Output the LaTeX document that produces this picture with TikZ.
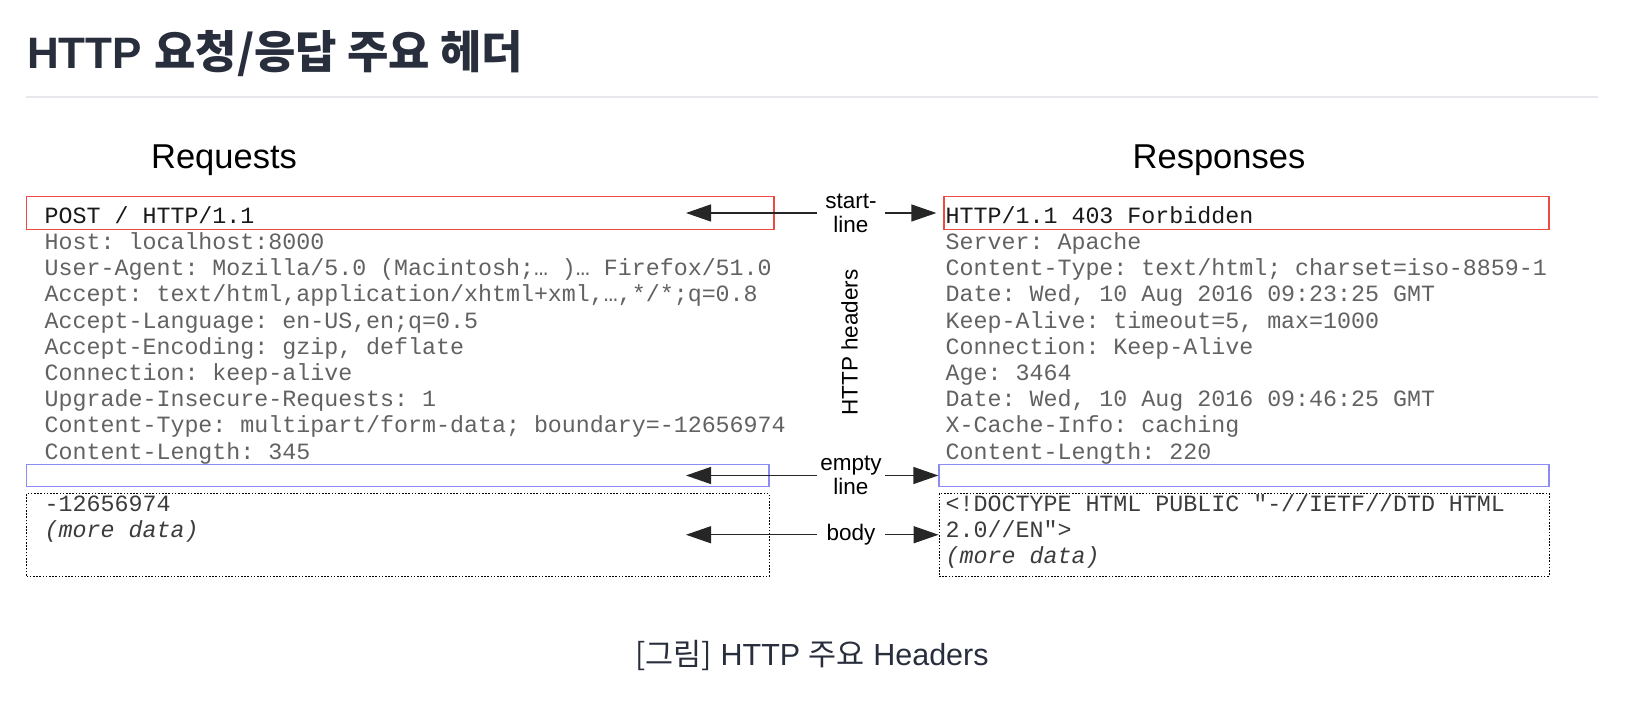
\documentclass[tikz,border=0pt]{standalone}
\usepackage{fontspec}
\setmainfont{Liberation Sans}
\setmonofont{Liberation Mono}
\newfontfamily\krfont{Noto Sans CJK KR}
\usetikzlibrary{arrows.meta}

\definecolor{titlecol}{HTML}{282E3C}
\definecolor{rulecol}{HTML}{E6E8EC}
\definecolor{startred}{HTML}{EE4A44}
\definecolor{emptyblue}{HTML}{8C8CF5}
\definecolor{hdrgray}{HTML}{626262}
\definecolor{bodygray}{HTML}{3C3C3C}

\begin{document}
\begin{tikzpicture}[x=1pt,y=-1pt]
	\tikzset{box/.style={draw, inner sep=0pt}}
	\tikzset{redbox/.style={box, draw=startred, line width=1.3pt}}
	\tikzset{bluebox/.style={box, draw=emptyblue, line width=1.3pt}}
	\tikzset{dotbox/.style={box, draw=black, line width=0.9pt, dash pattern=on 1.6pt off 1.6pt}}
	\tikzset{first/.style={anchor=base west, inner sep=0pt, text=black!90, font=\ttfamily\fontsize{23.3}{26}\selectfont}}
	\tikzset{hdr/.style={first, text=hdrgray}}
	\tikzset{bodytxt/.style={first, text=bodygray}}
	\tikzset{head/.style={anchor=base, inner sep=0pt, font=\fontsize{34.5}{40}\selectfont}}
	\tikzset{tag/.style={inner sep=0pt, minimum width=68pt, align=center, font=\fontsize{22.5}{24}\selectfont}}
	\tikzset{arr/.style={-{Triangle[length=25pt,width=17pt]}, line width=1.3pt, draw=black!85}}

	\useasboundingbox[fill=white] (0,0) rectangle (1632,708);

	% title
	\node[anchor=base west, inner sep=0pt, text=titlecol, font=\fontsize{44}{50}\selectfont] (title) at (27,68.3) {\bfseries HTTP {\krfont\fontsize{45}{50}\selectfont 요청/응답 주요 헤더}};
	\draw[rulecol, line width=2pt] (26,97) -- (1598,97);

	% column heads
	\node[head] (reqhead) at (224,168.5) {Requests};
	\node[head] (resphead) at (1219,168.5) {Responses};

	% boxes
	\node[redbox, minimum width=747.5pt, minimum height=33pt] (reqstart) at (400.25,213) {};
	\node[redbox, minimum width=605pt, minimum height=33pt] (respstart) at (1246.5,213) {};
	\node[bluebox, minimum width=742.5pt, minimum height=21.5pt] (reqempty) at (397.75,475.5) {};
	\node[bluebox, minimum width=610pt, minimum height=21.5pt] (respempty) at (1244,475.5) {};
	\node[dotbox, minimum width=742.5pt, minimum height=82.5pt] (reqbody) at (397.75,534.75) {};
	\node[dotbox, minimum width=610pt, minimum height=82.5pt] (respbody) at (1244,534.75) {};

	% request
	\node[first] (q0) at (44.5,223.3) {POST / HTTP/1.1};
	\node[hdr] (q1) at (44.5,249.5) {Host: localhost:8000};
	\node[hdr] (q2) at (44.5,275.7) {User-Agent: Mozilla/5.0 (Macintosh;… )… Firefox/51.0};
	\node[hdr] (q3) at (44.5,301.9) {Accept: text/html,application/xhtml+xml,…,*/*;q=0.8};
	\node[hdr] (q4) at (44.5,328.1) {Accept-Language: en-US,en;q=0.5};
	\node[hdr] (q5) at (44.5,354.3) {Accept-Encoding: gzip, deflate};
	\node[hdr] (q6) at (44.5,380.5) {Connection: keep-alive};
	\node[hdr] (q7) at (44.5,406.7) {Upgrade-Insecure-Requests: 1};
	\node[hdr] (q8) at (44.5,432.9) {Content-Type: multipart/form-data; boundary=-12656974};
	\node[hdr] (q9) at (44.5,459.1) {Content-Length: 345};
	\node[bodytxt] (qb1) at (44.5,511.5) {-12656974};
	\node[bodytxt] (qb2) at (44.5,537.7) {\itshape (more data)};

	% response
	\node[first] (s0) at (945.5,223.3) {HTTP/1.1 403 Forbidden};
	\node[hdr] (s1) at (945.5,249.5) {Server: Apache};
	\node[hdr] (s2) at (945.5,275.7) {Content-Type: text/html; charset=iso-8859-1};
	\node[hdr] (s3) at (945.5,301.9) {Date: Wed, 10 Aug 2016 09:23:25 GMT};
	\node[hdr] (s4) at (945.5,328.1) {Keep-Alive: timeout=5, max=1000};
	\node[hdr] (s5) at (945.5,354.3) {Connection: Keep-Alive};
	\node[hdr] (s6) at (945.5,380.5) {Age: 3464};
	\node[hdr] (s7) at (945.5,406.7) {Date: Wed, 10 Aug 2016 09:46:25 GMT};
	\node[hdr] (s8) at (945.5,432.9) {X-Cache-Info: caching};
	\node[hdr] (s9) at (945.5,459.1) {Content-Length: 220};
	\node[bodytxt] (sb1) at (945.5,511.5) {<!DOCTYPE HTML PUBLIC "-//IETF//DTD HTML};
	\node[bodytxt] (sb2) at (945.5,537.7) {2.0//EN">};
	\node[bodytxt] (sb3) at (945.5,563.9) {\itshape (more data)};

	% middle tags
	\node[tag] (tstart) at (851,213) {start-\\line};
	\node[tag, rotate=90] (thead) at (849.5,342.5) {HTTP headers};
	\node[tag] (tempty) at (851,475.5) {empty\\line};
	\node[tag] (tbody) at (851,534.75) {body};
	\coordinate (qstart) at (686,213);
	\coordinate (qempty) at (686,475.5);
	\coordinate (qbody) at (686,534.75);

	% arrows
	\draw[arr] (tstart.west) -- (qstart);
	\draw[arr, shorten >=7pt] (tstart.east) -- (respstart.west);
	\draw[arr] (tempty.west) -- (qempty);
	\draw[arr] (tempty.east) -- (respempty.west);
	\draw[arr] (tbody.west) -- (qbody);
	\draw[arr] (tbody.east) -- (respbody.west);

	% caption
	\node[anchor=base, inner sep=0pt, text=titlecol, font=\fontsize{30.5}{36}\selectfont] (caption) at (812,665) {{\krfont [그림]} HTTP {\krfont 주요} Headers};
\end{tikzpicture}
\end{document}
